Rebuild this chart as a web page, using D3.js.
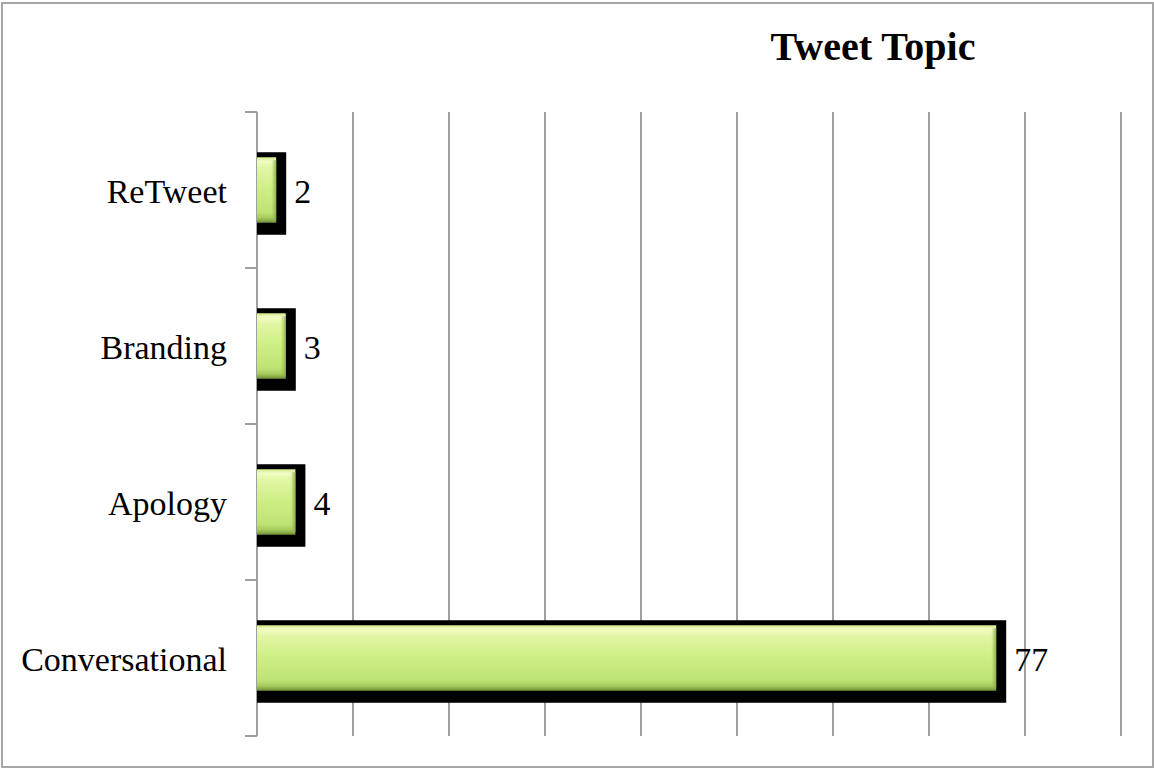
<!DOCTYPE html>
<html>
<head>
<meta charset="utf-8">
<script src="https://cdn.jsdelivr.net/npm/d3@7"></script>
<style>
  body { margin: 0; background: #fff; }
  text { font-family: "Liberation Serif", "DejaVu Serif", serif; }
</style>
</head>
<body>
<script>
// data
var categories = ["ReTweet", "Branding", "Apology", "Conversational"];
var counts = [2, 3, 4, 77];
var xTicks = [0, 10, 20, 30, 40, 50, 60, 70, 80, 90];
var title = "Tweet Topic";

var width = 1154;
var height = 769;

var svg = d3.select("body")
    .append("svg")
    .attr("width", width)
    .attr("height", height);

// outer frame
svg.append("rect")
    .attr("x", 2).attr("y", 3)
    .attr("width", width - 3).attr("height", height - 5)
    .attr("fill", "#fff")
    .attr("stroke", "#a6a6a6")
    .attr("stroke-width", 2);

// bar gradient
var defs = svg.append("defs");
var grad = defs.append("linearGradient")
    .attr("id", "barGrad")
    .attr("x1", 0).attr("y1", 0).attr("x2", 0).attr("y2", 1);
[["0%", "#cfe88a"], ["6%", "#f2fcc6"], ["16%", "#e2f6a4"], ["50%", "#cdee84"],
 ["84%", "#bfe274"], ["93%", "#a4c85a"], ["100%", "#6f8f36"]].forEach(function (s) {
    grad.append("stop").attr("offset", s[0]).attr("stop-color", s[1]);
});
var edge = defs.append("linearGradient")
    .attr("id", "edgeGrad")
    .attr("x1", 0).attr("y1", 0).attr("x2", 1).attr("y2", 0);
edge.append("stop").attr("offset", "0%").attr("stop-color", "#9dbf55").attr("stop-opacity", 0);
edge.append("stop").attr("offset", "100%").attr("stop-color", "#86a845").attr("stop-opacity", 0.9);

// scales
var x = d3.scaleLinear()
    .domain([0, 90])
    .range([257, 1121]);

var y = d3.scaleBand()
    .domain(categories)
    .range([112, 736])
    .padding(0);

// gridlines
svg.selectAll(".grid")
    .data(xTicks.slice(1))
    .enter().append("line")
    .attr("class", "grid")
    .attr("x1", function (d) { return x(d); })
    .attr("x2", function (d) { return x(d); })
    .attr("y1", y.range()[0])
    .attr("y2", y.range()[1])
    .attr("stroke", "#a0a0a0")
    .attr("stroke-width", 2);

// category axis with ticks on band boundaries
var bounds = categories.map(function (c) { return y(c); }).concat([y.range()[1]]);
svg.append("line")
    .attr("x1", x(0)).attr("x2", x(0))
    .attr("y1", y.range()[0]).attr("y2", y.range()[1])
    .attr("stroke", "#a0a0a0").attr("stroke-width", 2);
svg.selectAll(".ytick")
    .data(bounds)
    .enter().append("line")
    .attr("class", "ytick")
    .attr("x1", x(0) - 12).attr("x2", x(0))
    .attr("y1", function (d) { return d; })
    .attr("y2", function (d) { return d; })
    .attr("stroke", "#a0a0a0").attr("stroke-width", 2);

var barH = y.bandwidth() * 0.42;

var bars = svg.selectAll(".bar")
    .data(categories)
    .enter().append("g")
    .attr("class", "bar");

// black shadow
bars.append("rect")
    .attr("x", x(0))
    .attr("y", function (d) { return y(d) + (y.bandwidth() - barH) / 2 - 5; })
    .attr("width", function (d, i) { return x(counts[i]) - x(0) + 10; })
    .attr("height", barH + 17)
    .attr("fill", "#000");

// bevelled green bar
bars.append("rect")
    .attr("x", x(0))
    .attr("y", function (d) { return y(d) + (y.bandwidth() - barH) / 2; })
    .attr("width", function (d, i) { return x(counts[i]) - x(0); })
    .attr("height", barH)
    .attr("fill", "url(#barGrad)");

bars.append("rect")
    .attr("x", function (d, i) { return x(counts[i]) - 5; })
    .attr("y", function (d) { return y(d) + (y.bandwidth() - barH) / 2 + 3; })
    .attr("width", 5)
    .attr("height", barH - 6)
    .attr("fill", "url(#edgeGrad)");

// value labels
bars.append("text")
    .attr("x", function (d, i) { return x(counts[i]) + 18; })
    .attr("y", function (d) { return y(d) + y.bandwidth() / 2 + 13; })
    .attr("font-size", 34)
    .attr("fill", "#000")
    .text(function (d, i) { return counts[i]; });

// category labels
svg.selectAll(".cat")
    .data(categories)
    .enter().append("text")
    .attr("class", "cat")
    .attr("x", 227)
    .attr("y", function (d) { return y(d) + y.bandwidth() / 2 + 13; })
    .attr("text-anchor", "end")
    .attr("font-size", 34)
    .attr("fill", "#000")
    .text(function (d) { return d; });

// title
svg.append("text")
    .attr("x", 873)
    .attr("y", 60)
    .attr("text-anchor", "middle")
    .attr("font-size", 40)
    .attr("font-weight", "bold")
    .attr("fill", "#000")
    .text(title);
</script>
</body>
</html>
